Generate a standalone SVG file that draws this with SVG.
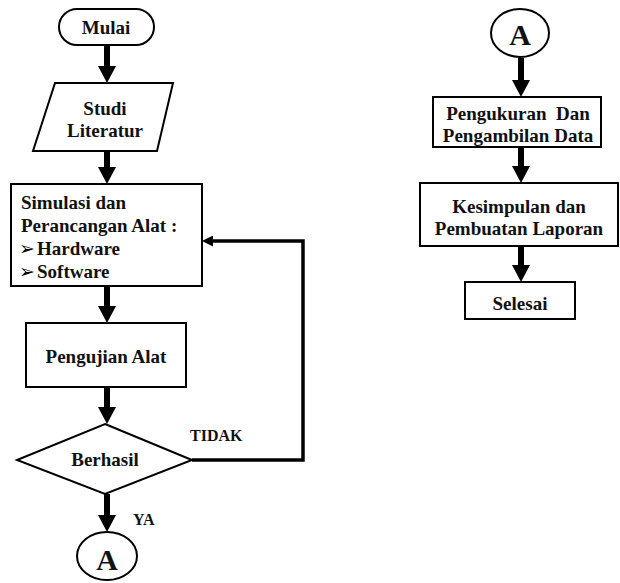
<svg xmlns="http://www.w3.org/2000/svg" width="620" height="583" viewBox="0 0 620 583">
<defs>
<style>
.shape{fill:#fff;stroke:#000;stroke-width:2}
.t{font-family:"Liberation Serif","Times New Roman",serif;font-weight:bold;font-size:19px;fill:#111}
.c{text-anchor:middle}
.lbl{font-family:"Liberation Serif","Times New Roman",serif;font-weight:bold;font-size:16px;fill:#111}
.big{font-family:"Liberation Serif","Times New Roman",serif;font-weight:bold;font-size:30px;fill:#111;text-anchor:middle}
.arr{stroke:#000;stroke-width:6;fill:none;marker-end:url(#head)}
.fb{stroke:#000;stroke-width:3.5;fill:none;marker-end:url(#small)}
.sym{font-family:"DejaVu Sans",sans-serif;font-size:19px;font-weight:normal}
</style>
<marker id="head" markerUnits="userSpaceOnUse" viewBox="0 -9 17 18" refX="0" refY="0" markerWidth="17" markerHeight="18" orient="auto">
<path d="M0,-9 L17,0 L0,9 z" fill="#000"/>
</marker>
<marker id="small" markerUnits="userSpaceOnUse" viewBox="0 -5.5 11 11" refX="0" refY="0" markerWidth="11" markerHeight="11" orient="auto">
<path d="M0,-5.5 L11,0 L0,5.5 z" fill="#000"/>
</marker>
</defs>
<rect width="620" height="583" fill="#fff"/>

<g id="connectors">
<line class="arr" x1="107" y1="45" x2="107" y2="66"/>
<line class="arr" x1="107" y1="151" x2="107" y2="167"/>
<line class="arr" x1="107" y1="286" x2="107" y2="306"/>
<line class="arr" x1="107" y1="387" x2="107" y2="407"/>
<line class="arr" x1="107" y1="494" x2="107" y2="515"/>
<polyline class="fb" points="192,460 303,460 303,241 213,241"/>
<line class="arr" x1="521" y1="58" x2="521" y2="80"/>
<line class="arr" x1="521" y1="147" x2="521" y2="166"/>
<line class="arr" x1="521" y1="246" x2="521" y2="265"/>
<text class="lbl" x="190" y="441">TIDAK</text>
<text class="lbl" x="133" y="525">YA</text>
</g>

<g id="mulai">
<rect class="shape" x="59" y="9" width="95" height="36" rx="18"/>
<text class="t c" x="106" y="34">Mulai</text>
</g>

<g id="studi">
<polygon class="shape" points="55,83 173,83 157,151 33,151"/>
<text class="t c" x="105" y="115">Studi</text>
<text class="t c" x="105" y="137">Literatur</text>
</g>

<g id="simulasi">
<rect class="shape" x="11" y="184" width="191" height="102"/>
<text class="t" x="21" y="209">Simulasi dan</text>
<text class="t" x="21" y="232">Perancangan Alat :</text>
<text class="sym" x="19" y="255">➢</text>
<text class="t" x="37" y="255">Hardware</text>
<text class="sym" x="19" y="278">➢</text>
<text class="t" x="37" y="278">Software</text>
</g>

<g id="pengujian">
<rect class="shape" x="26" y="323" width="160" height="64"/>
<text class="t c" x="106" y="363">Pengujian Alat</text>
</g>

<g id="berhasil">
<polygon class="shape" points="105,424 192,460 105,494 17,460"/>
<text class="t c" x="105" y="466">Berhasil</text>
</g>

<g id="connectorA1">
<ellipse class="shape" cx="107" cy="556" rx="30" ry="24"/>
<text class="big" x="107" y="570">A</text>
</g>

<g id="connectorA2">
<ellipse class="shape" cx="520" cy="33" rx="29" ry="24"/>
<text class="big" x="520" y="45">A</text>
</g>

<g id="pengukuran">
<rect class="shape" x="433" y="97" width="168" height="50"/>
<text class="t c" x="518" y="120" xml:space="preserve">Pengukuran  Dan</text>
<text class="t c" x="518" y="142">Pengambilan Data</text>
</g>

<g id="kesimpulan">
<rect class="shape" x="420" y="183" width="198" height="63"/>
<text class="t c" x="519" y="213">Kesimpulan dan</text>
<text class="t c" x="519" y="235">Pembuatan Laporan</text>
</g>

<g id="selesai">
<rect class="shape" x="465" y="282" width="110" height="37"/>
<text class="t c" x="520" y="310">Selesai</text>
</g>
</svg>
